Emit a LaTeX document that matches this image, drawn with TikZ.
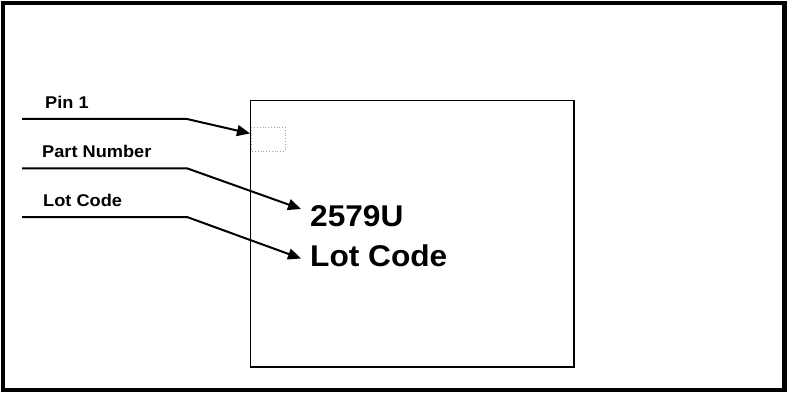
\documentclass[tikz,border=0pt]{standalone}
\usepackage{fontspec}
\setmainfont{Liberation Sans}
\newfontfamily\widesmall[FakeStretch=1.07]{Liberation Sans}
\newfontfamily\widebig[FakeStretch=1.055]{Liberation Sans}
\usetikzlibrary{arrows.meta}
\begin{document}
\begin{tikzpicture}[x=1pt,y=-1pt,
  frame/.style={draw=black,line width=4.5pt},
  chip/.style={draw=black,line width=1.7pt},
  pinmark/.style={draw=black!35,dotted,line width=0.8pt},
  lbl/.style={anchor=base west,inner sep=0pt,font=\widesmall\bfseries\fontsize{17}{19}\selectfont},
  bigtext/.style={anchor=base west,inner sep=0pt,font=\widebig\bfseries\fontsize{30}{34}\selectfont},
  leader/.style={draw=black,line width=2pt,-{Triangle[length=13pt,width=11pt]}}]
\useasboundingbox (0,0) rectangle (787,393);
\draw[frame] (3.2,3.2) rectangle (784.5,390.2);
\draw[chip] (250.5,100.5) rectangle (574,367);
\draw[pinmark] (251,127) rectangle (285,151);
% labels
\node[lbl] (pin) at (45,108.3) {Pin 1};
\node[lbl] (pn) at (42,157.3) {Part Number};
\node[lbl] (lc) at (43,206.7) {Lot Code};
\node[bigtext] (num) at (310,226.7) {2579U};
\node[bigtext] (lot) at (310,266) {Lot Code};
% connector coordinates
\coordinate (s1) at (22,119);   \coordinate (k1) at (187,119);  \coordinate (t1) at (250,133.5);
\coordinate (s2) at (22,168.3); \coordinate (k2) at (187,168.3); \coordinate (t2) at (301,209);
\coordinate (s3) at (22,217);   \coordinate (k3) at (187,217);  \coordinate (t3) at (301,258.5);
\draw[leader] (s1) -- (k1) -- (t1);
\draw[leader] (s2) -- (k2) -- (t2);
\draw[leader] (s3) -- (k3) -- (t3);
\end{tikzpicture}
\end{document}
